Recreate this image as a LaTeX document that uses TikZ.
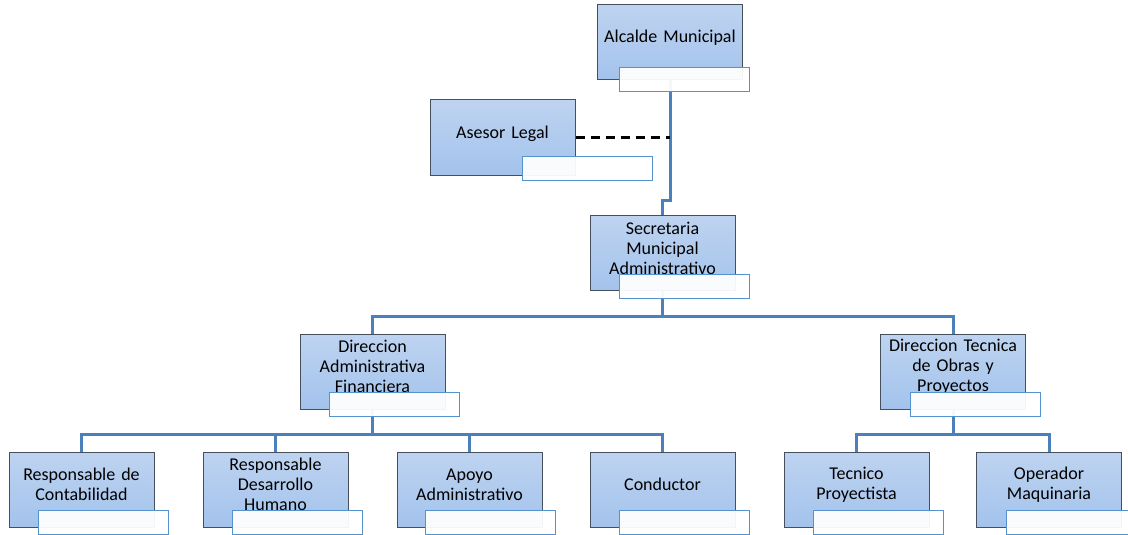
\documentclass[tikz,border=0pt]{standalone}
\usepackage{fontspec}
\setmainfont{Carlito}
\usetikzlibrary{calc}

\definecolor{boxtop}{RGB}{190,211,240}
\definecolor{boxbot}{RGB}{163,195,236}
\definecolor{boxline}{RGB}{70,80,92}
\definecolor{tagline}{RGB}{84,146,208}
\definecolor{connblue}{RGB}{74,128,188}

\tikzset{
  orgbox/.style={rectangle, minimum width=145pt, minimum height=75pt, inner sep=0pt,
    top color=boxtop, bottom color=boxbot, draw=boxline, line width=1pt},
  boxtext/.style={align=center, inner sep=0pt, text width=150pt,
    font=\fontsize{18}{20}\selectfont, text=black},
  tagbox/.style={rectangle, anchor=north west, minimum width=130pt, minimum height=24pt,
    inner sep=0pt, fill=white, fill opacity=0.94, draw=tagline, draw opacity=1, line width=1.3pt},
  conn/.style={draw=connblue, line width=3pt},
  advice/.style={draw=black, line width=2.6pt, dash pattern=on 9pt off 6pt}
}

\begin{document}
\begin{tikzpicture}[x=1pt,y=-1pt]
\useasboundingbox (0,0) rectangle (1128,535);

% box centres
\coordinate (alc-c) at (670,42.5);
\coordinate (ase-c) at (502.5,137.5);
\coordinate (sec-c) at (662.5,253);
\coordinate (daf-c) at (372.5,371.5);
\coordinate (dto-c) at (953,371.5);
\coordinate (rco-c) at (81.5,489.5);
\coordinate (rdh-c) at (275.5,489.5);
\coordinate (apo-c) at (469.5,489.5);
\coordinate (con-c) at (662.5,489.5);
\coordinate (tec-c) at (856.5,489.5);
\coordinate (ope-c) at (1049,489.5);

% bus levels and bends
\coordinate (bus1) at (0,316);
\coordinate (bus2) at (0,434);
\coordinate (bend) at (670,200);
\coordinate (adv) at (670,137.5);

\node[orgbox] (alc) at (alc-c) {};
\node[orgbox] (ase) at (ase-c) {};
\node[orgbox] (sec) at (sec-c) {};
\node[orgbox] (daf) at (daf-c) {};
\node[orgbox] (dto) at (dto-c) {};
\node[orgbox] (rco) at (rco-c) {};
\node[orgbox] (rdh) at (rdh-c) {};
\node[orgbox] (apo) at (apo-c) {};
\node[orgbox] (con) at (con-c) {};
\node[orgbox] (tec) at (tec-c) {};
\node[orgbox] (ope) at (ope-c) {};

% reporting lines
\draw[conn] (alc.south) -- (bend) -| (sec.north);
\draw[advice] (ase.east) -- (adv);
\draw[conn] (sec.south) -- (sec.south |- bus1);
\draw[conn] (daf.north) |- (sec.south |- bus1) -| (dto.north);
\draw[conn] (daf.south) -- (daf.south |- bus2);
\draw[conn] (rco.north) |- (daf.south |- bus2) -| (con.north);
\draw[conn] (rdh.north) -- (rdh.north |- bus2);
\draw[conn] (apo.north) -- (apo.north |- bus2);
\draw[conn] (dto.south) -- (dto.south |- bus2);
\draw[conn] (tec.north) |- (dto.south |- bus2) -| (ope.north);

% redraw boxes over connector ends
\node[orgbox] at (alc-c) {};
\node[orgbox] at (ase-c) {};

% texts
\node[boxtext] (alc-t) at ($(alc-c)+(0,-5)$) {Alcalde Municipal};
\node[boxtext] (ase-t) at ($(ase-c)+(0,-4)$) {Asesor Legal};
\node[boxtext] (sec-t) at ($(sec-c)+(0,-5)$) {Secretaria\\Municipal\\Administrativo};
\node[boxtext] (daf-t) at ($(daf-c)+(0,-5)$) {Direccion\\Administrativa\\Financiera};
\node[boxtext] (dto-t) at ($(dto-c)+(0,-5)$) {Direccion Tecnica\\de Obras y\\Proyectos};
\node[boxtext] (rco-t) at ($(rco-c)+(0,-5)$) {Responsable de\\Contabilidad};
\node[boxtext] (rdh-t) at ($(rdh-c)+(0,-5)$) {Responsable\\Desarrollo\\Humano};
\node[boxtext] (apo-t) at ($(apo-c)+(0,-5)$) {Apoyo\\Administrativo};
\node[boxtext] (con-t) at ($(con-c)+(0,-5)$) {Conductor};
\node[boxtext] (tec-t) at ($(tec-c)+(0,-5)$) {Tecnico\\Proyectista};
\node[boxtext] (ope-t) at ($(ope-c)+(0,-5)$) {Operador\\Maquinaria};

% name tags
\node[tagbox] (alc-l) at (619,67) {};
\node[tagbox] (ase-l) at (522,156) {};
\node[tagbox] (sec-l) at (619,274) {};
\node[tagbox] (daf-l) at (329,392) {};
\node[tagbox] (dto-l) at (910,392) {};
\node[tagbox] (rco-l) at (38,510) {};
\node[tagbox] (rdh-l) at (232,510) {};
\node[tagbox] (apo-l) at (425,510) {};
\node[tagbox] (con-l) at (619,510) {};
\node[tagbox] (tec-l) at (813,510) {};
\node[tagbox] (ope-l) at (1006,510) {};
\end{tikzpicture}
\end{document}
